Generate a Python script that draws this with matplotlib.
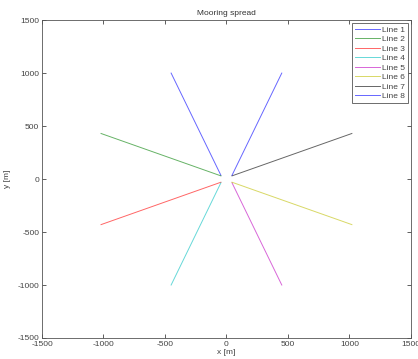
import numpy as np
import matplotlib.pyplot as plt

# fairlead (start) and anchor (end) points of each mooring line, in metres
labels = ['Line 1', 'Line 2', 'Line 3', 'Line 4', 'Line 5', 'Line 6', 'Line 7', 'Line 8']
fair_x = [-45, -45, -45, -45, 45, 45, 45, 45]
fair_y = [35, 30, -30, -35, -35, -30, 30, 35]
anch_x = [-450, -1020, -1020, -450, 450, 1020, 1020, 450]
anch_y = [1000, 430, -430, -1000, -1000, -430, 430, 1000]
colors = ['b', 'g', 'r', 'c', 'm', 'y', 'k', 'b']

plt.rcParams['font.family'] = ['Liberation Sans', 'DejaVu Sans']
plt.rcParams['font.size'] = 6
plt.rcParams['axes.unicode_minus'] = False

fig = plt.figure(figsize=(4.18, 3.59), dpi=100)
ax = fig.add_axes([0.1005, 0.0585, 0.8825, 0.8855])

for i in range(len(labels)):
    ax.plot([fair_x[i], anch_x[i]], [fair_y[i], anch_y[i]],
            color=colors[i], lw=0.7, alpha=0.6, label=labels[i])

ax.set_xlim(-1500, 1500)
ax.set_ylim(-1500, 1500)
ax.set_xticks(np.arange(-1500, 1501, 500))
ax.set_yticks(np.arange(-1500, 1501, 500))
ax.tick_params(direction='in', top=True, right=True, length=3, width=0.6,
               colors='#444444', labelsize=6, pad=2)
for s in ax.spines.values():
    s.set_color('#555555')
    s.set_linewidth(0.6)

ax.set_xlabel('x [m]', color='#444444', labelpad=1)
ax.set_ylabel('y [m]', color='#444444', labelpad=5)
ax.set_title('Mooring spread', color='#333333', fontsize=6, pad=4)

leg = ax.legend(loc='upper right', fontsize=6, frameon=True, fancybox=False,
                handlelength=3.0, handletextpad=0.3, labelspacing=0.2,
                borderpad=0.3, borderaxespad=0.4, framealpha=1)
leg.get_frame().set_edgecolor('#555555')
leg.get_frame().set_linewidth(0.6)
for t in leg.get_texts():
    t.set_color('#444444')

fig.savefig('out.png', dpi=100)
